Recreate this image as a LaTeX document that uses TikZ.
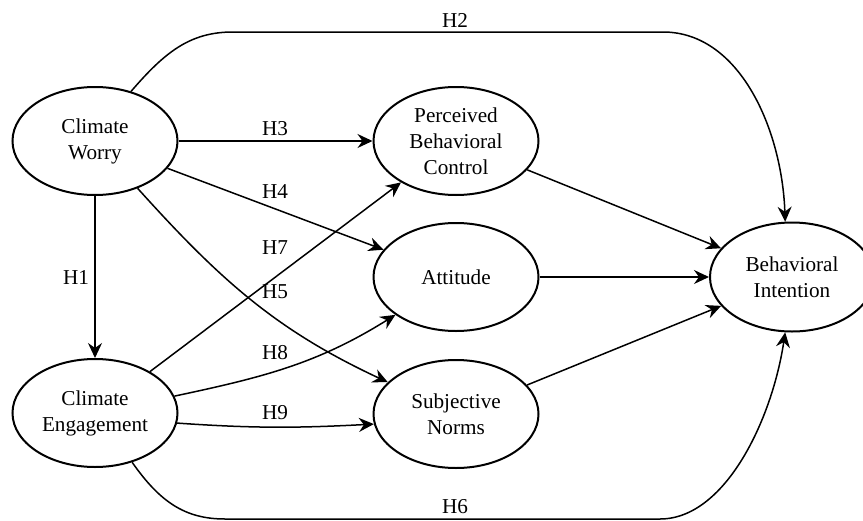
\documentclass[tikz,border=0pt]{standalone}
\usepackage{fontspec}
\setmainfont{Liberation Serif}
\usetikzlibrary{shapes.geometric,arrows.meta}
\begin{document}
\begin{tikzpicture}[x=0.5pt,y=-0.5pt,
  latent/.style={ellipse,draw,line width=1pt,minimum width=82.5pt,minimum height=54pt,inner sep=0pt,align=center,font=\fontsize{10.6}{13}\selectfont},
  path/.style={line width=0.75pt,-{Stealth[length=7.5pt,width=7pt,inset=2.5pt]}},
  hyp/.style={font=\fontsize{10.6}{13}\selectfont,inner sep=0pt}]
\useasboundingbox (0,0) rectangle (863,520);
\node[latent] (cw) at (95,141) {Climate\\Worry};
\node[latent] (ce) at (95,413) {Climate\\Engagement};
\node[latent] (pbc) at (456,141) {Perceived\\Behavioral\\Control};
\node[latent] (att) at (456,277) {Attitude};
\node[latent] (sn) at (456,414) {Subjective\\Norms};
\node[latent,minimum width=82pt,minimum height=54.5pt] (bi) at (792,277) {Behavioral\\Intention};

\draw[path] (cw) -- (ce);
\draw[path] (cw.54) .. controls (165,52) and (190,32) .. (233,32) -- (663,32) .. controls (740,32) and (782,130) .. (bi.97);
\draw[path] (ce.-53) .. controls (160,502) and (185,519) .. (225,519) -- (660,519) .. controls (725,519) and (772,420) .. (bi.-97);
\draw[path] (cw) -- (pbc);
\draw[path] (cw) -- (att);
\draw[path] (cw) to[out=-48,in=155] (sn);
\draw[path] (ce) -- (pbc);
\draw[path] (ce) to[out=12,in=-148] (att);
\draw[path] (ce.-7) to[out=-4,in=183] (sn.187);
\draw[path] (pbc) -- (bi);
\draw[path] (att) -- (bi);
\draw[path] (sn) -- (bi);

\node[hyp] (h1) at (76,277) {H1};
\node[hyp] (h2) at (455,20) {H2};
\node[hyp] (h3) at (275,129) {H3};
\node[hyp] (h4) at (275,192) {H4};
\node[hyp] (h5) at (275,292) {H5};
\node[hyp] (h6) at (455,507) {H6};
\node[hyp] (h7) at (275,248) {H7};
\node[hyp] (h8) at (275,353) {H8};
\node[hyp] (h9) at (275,413) {H9};
\end{tikzpicture}
\end{document}
